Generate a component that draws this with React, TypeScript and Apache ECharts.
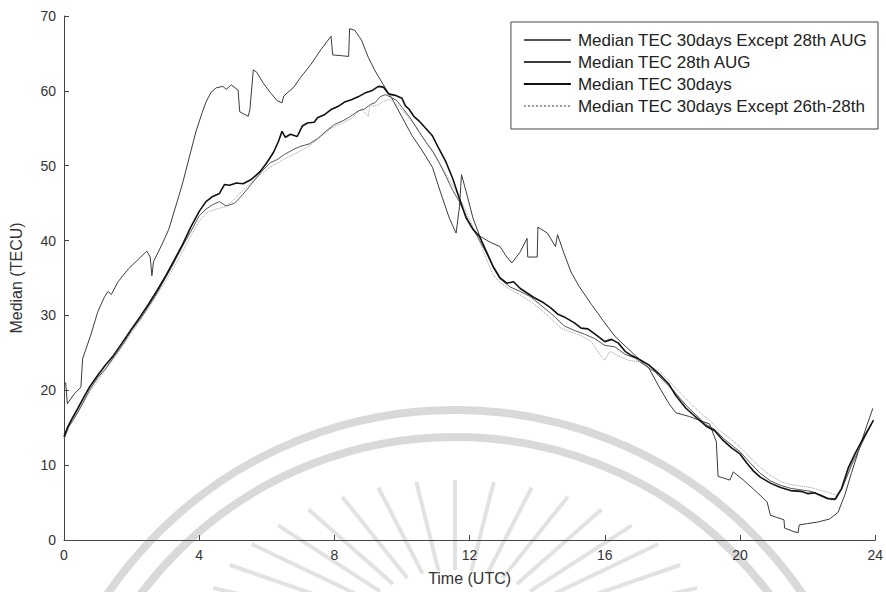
import React, { useEffect, useRef } from "react";
import * as echarts from "echarts";

const xTicks = [0, 4, 8, 12, 16, 20, 24];
const yTicks = [0, 10, 20, 30, 40, 50, 60, 70];

const seriesNames = [
  "Median TEC 30days Except 28th AUG",
  "Median TEC 28th AUG",
  "Median TEC 30days",
  "Median TEC 30days Except 26th-28th",
];

const aug28: number[][] = [
  [0, 20.8], [0.05, 21], [0.1, 18.2], [0.3, 19.5], [0.5, 20.4], [0.55, 24.2], [0.8, 27.5], [1.0, 30.5],
  [1.2, 32.5], [1.3, 33.2], [1.4, 32.8], [1.6, 34.5], [1.9, 36.2], [2.2, 37.5], [2.45, 38.6], [2.55, 37.8],
  [2.6, 35.3], [2.65, 37.2], [2.9, 39.5], [3.1, 41.5], [3.3, 44.5], [3.5, 47.5], [3.7, 51], [3.9, 54.5],
  [4.08, 57], [4.2, 58.5], [4.35, 59.8], [4.5, 60.4], [4.7, 60.6], [4.8, 60.2], [4.95, 60.8], [5.15, 60.1],
  [5.2, 57.2], [5.45, 56.6], [5.5, 57.5], [5.6, 62.8], [5.7, 62.5], [5.9, 61], [6.1, 59.8], [6.3, 58.7],
  [6.45, 58.4], [6.5, 59.3], [6.8, 60.5], [7.0, 61.8], [7.3, 63.5], [7.6, 65.5], [7.9, 67.3], [7.95, 64.8],
  [8.2, 64.7], [8.42, 64.6], [8.45, 68.3], [8.6, 68.1], [8.8, 66.8], [9.0, 64.5], [9.2, 62.7], [9.45, 60.8],
  [9.7, 59], [10.0, 56.5], [10.3, 54], [10.6, 52], [10.9, 49.8], [11.15, 46.3], [11.4, 43], [11.6, 41],
  [11.7, 44.5], [11.76, 48.8], [11.9, 46.5], [12.1, 43], [12.3, 40.6], [12.6, 39.8], [12.9, 39.2], [13.1, 37.8],
  [13.25, 37], [13.5, 38.5], [13.7, 40.3], [13.72, 37.8], [14.0, 37.8], [14.02, 41.8], [14.3, 41], [14.54, 39.2],
  [14.6, 40.8], [14.8, 38.2], [15.0, 35.8], [15.25, 33.8], [15.6, 31.5], [16.0, 29], [16.3, 27.2], [16.7, 25.5],
  [17.0, 24.2], [17.3, 23], [17.6, 20.5], [17.9, 18.2], [18.1, 17], [18.5, 16.5], [18.8, 16], [19.1, 15.5],
  [19.3, 13.1], [19.35, 8.5], [19.5, 8.3], [19.7, 8], [19.8, 9.1], [20.1, 8], [20.4, 6.8], [20.8, 5.1],
  [20.9, 3.3], [21.1, 3], [21.3, 2.7], [21.32, 1.6], [21.6, 1.1], [21.72, 1.0], [21.75, 2.0], [22.0, 2.2],
  [22.3, 2.4], [22.65, 2.8], [22.9, 3.7], [23.1, 6], [23.3, 9], [23.5, 11.8], [23.7, 14.6], [23.93, 17.6],
];

const days30: number[][] = [
  [0, 13.8], [0.1, 15], [0.25, 16.3], [0.4, 17.5], [0.6, 19.2], [0.75, 20.4], [1.0, 22], [1.2, 23.2],
  [1.44, 24.5], [1.7, 26.2], [2.0, 28.2], [2.25, 29.8], [2.5, 31.5], [2.75, 33.3], [3.0, 35.2], [3.25, 37.3],
  [3.5, 39.4], [3.75, 41.8], [4.0, 43.9], [4.2, 45.2], [4.4, 45.9], [4.6, 46.3], [4.75, 47.5], [4.9, 47.4],
  [5.1, 47.7], [5.3, 47.6], [5.55, 48.2], [5.8, 49.2], [6.0, 50.4], [6.2, 51.8], [6.35, 53.3], [6.45, 54.6],
  [6.55, 53.8], [6.7, 54.2], [6.9, 53.9], [7.05, 55.3], [7.2, 55.7], [7.4, 55.8], [7.5, 56.4], [7.7, 56.8],
  [7.9, 57.5], [8.1, 57.9], [8.3, 58.5], [8.5, 58.8], [8.7, 59.2], [8.9, 59.7], [9.1, 60], [9.3, 60.6],
  [9.45, 60.5], [9.6, 59.6], [9.8, 59.4], [10.0, 59], [10.1, 58], [10.2, 57.6], [10.35, 56.6], [10.5, 56],
  [10.7, 55], [10.9, 54], [11.1, 52.2], [11.3, 50.5], [11.5, 48.3], [11.7, 45.6], [11.9, 43], [12.1, 41.5],
  [12.3, 40.5], [12.5, 38.5], [12.7, 36.5], [12.9, 35], [13.1, 34.3], [13.3, 34.5], [13.5, 33.6], [13.7, 33],
  [13.9, 32.4], [14.15, 31.8], [14.4, 31], [14.6, 30.2], [14.8, 29.8], [15.1, 29], [15.3, 28.3], [15.5, 28.2],
  [15.8, 27.2], [16.0, 26.5], [16.2, 26.8], [16.4, 26.3], [16.6, 25.2], [16.8, 24.6], [17.0, 24.2], [17.3, 23.4],
  [17.6, 22.2], [17.9, 20.8], [18.1, 19.3], [18.4, 17.6], [18.7, 16.4], [19.0, 15.2], [19.25, 14.6], [19.5, 13.3],
  [19.75, 12.3], [20.0, 11.5], [20.2, 10.3], [20.4, 9.2], [20.6, 8.4], [20.9, 7.6], [21.2, 7.0], [21.5, 6.6],
  [21.8, 6.5], [22.0, 6.2], [22.2, 6.3], [22.4, 5.9], [22.6, 5.5], [22.8, 5.4], [23.0, 6.8], [23.2, 9.6],
  [23.4, 11.5], [23.6, 13.2], [23.8, 14.8], [23.95, 16.0],
];

const except28: number[][] = [
  [0, 13.5], [0.15, 15.2], [0.3, 16.2], [0.5, 17.8], [0.75, 20.0], [1.0, 21.7], [1.25, 23], [1.5, 24.6],
  [1.75, 26.2], [2.0, 28], [2.25, 29.5], [2.5, 31.2], [2.75, 33], [3.0, 35], [3.25, 37], [3.5, 39.2],
  [3.75, 41.2], [4.0, 43.3], [4.2, 44.2], [4.4, 44.8], [4.6, 45.2], [4.8, 44.6], [5.05, 45.0], [5.3, 46.2],
  [5.5, 47.3], [5.84, 49.2], [6.1, 50.4], [6.3, 50.8], [6.52, 51.5], [6.8, 52.2], [7.0, 52.6], [7.25, 52.9],
  [7.5, 53.6], [7.75, 54.6], [8.0, 55.5], [8.25, 56.0], [8.48, 56.6], [8.7, 57.3], [8.9, 57.6], [9.07, 58.2],
  [9.2, 58.4], [9.35, 59.2], [9.5, 59.5], [9.65, 59.2], [9.85, 58.7], [10.0, 57.8], [10.24, 56.4], [10.5, 54.6],
  [10.7, 53.2], [10.9, 52.0], [11.1, 50.4], [11.3, 48.6], [11.5, 46.7], [11.7, 45.2], [11.9, 43.2], [12.1, 41.6],
  [12.3, 40.0], [12.5, 38.3], [12.7, 36.4], [12.9, 34.9], [13.2, 33.8], [13.5, 33.2], [13.8, 32.5], [14.1, 31.4],
  [14.4, 30.3], [14.8, 28.6], [15.1, 28.0], [15.4, 27.5], [15.7, 26.9], [16.0, 26.0], [16.3, 25.8], [16.6, 24.8],
  [16.9, 24.3], [17.2, 23.3], [17.5, 22.4], [17.8, 21.0], [18.1, 19.6], [18.4, 18.0], [18.7, 16.7], [19.0, 15.4],
  [19.25, 14.8], [19.5, 13.6], [19.8, 12.5], [20.0, 11.8], [20.3, 10.3], [20.6, 8.9], [20.9, 7.9], [21.2, 7.3],
  [21.5, 6.9], [21.8, 6.7], [22.1, 6.5], [22.4, 6.0], [22.6, 5.6], [22.85, 5.5], [23.05, 7.2], [23.3, 10.0],
  [23.5, 11.9], [23.7, 13.8], [23.9, 15.6],
];

const except2628: number[][] = [
  [0, 14.2], [0.2, 15.6], [0.4, 17.0], [0.6, 18.5], [0.8, 20.1], [1.0, 21.3], [1.3, 23.2], [1.6, 25.0],
  [1.9, 27.0], [2.2, 29.0], [2.5, 31.0], [2.8, 33.1], [3.1, 35.3], [3.4, 37.6], [3.7, 40.2], [4.0, 42.6],
  [4.25, 43.8], [4.5, 44.2], [4.75, 44.5], [5.0, 45.3], [5.25, 46.5], [5.5, 47.6], [5.8, 48.8], [6.1, 49.8],
  [6.4, 50.6], [6.7, 51.3], [7.0, 52.0], [7.3, 52.8], [7.6, 53.9], [7.9, 55.0], [8.2, 55.6], [8.5, 56.3],
  [8.8, 57.6], [9.0, 56.6], [9.05, 58.0], [9.25, 58.0], [9.45, 58.6], [9.65, 58.9], [9.85, 58.2], [10.05, 57.2],
  [10.3, 55.8], [10.55, 54.2], [10.8, 52.5], [11.0, 51.2], [11.3, 48.9], [11.5, 47.4], [11.7, 45.8], [11.9, 43.8],
  [12.1, 41.8], [12.3, 39.8], [12.5, 37.5], [12.7, 35.4], [12.9, 34.4], [13.2, 33.5], [13.5, 32.7], [13.8, 31.9],
  [14.1, 30.8], [14.4, 29.6], [14.7, 28.3], [15.0, 27.8], [15.3, 27.3], [15.6, 26.5], [15.85, 24.8], [16.0, 24.0],
  [16.15, 25.2], [16.4, 24.6], [16.7, 24.0], [17.0, 23.8], [17.3, 23.2], [17.6, 22.6], [17.9, 21.3], [18.2, 19.8],
  [18.5, 18.4], [18.8, 17.1], [19.1, 16.0], [19.4, 14.6], [19.7, 13.6], [20.0, 12.4], [20.3, 11.0], [20.6, 9.7],
  [20.9, 8.6], [21.2, 7.8], [21.5, 7.4], [21.8, 7.2], [22.1, 7.0], [22.4, 6.6], [22.65, 6.3], [22.85, 6.0],
  [23.05, 7.4], [23.3, 10.2], [23.5, 12.0], [23.7, 13.9], [23.9, 15.4],
];

const FONT = "'Liberation Sans', Arial, sans-serif";

function watermark(): any[] {
  const els: any[] = [];
  els.push({
    type: "arc", z: -10, silent: true,
    shape: { cx: 455, cy: 830, r: 420, startAngle: Math.PI, endAngle: 2 * Math.PI, clockwise: true },
    style: { stroke: "#d9d9d9", lineWidth: 8, fill: "none" },
  });
  els.push({
    type: "arc", z: -10, silent: true,
    shape: { cx: 455, cy: 830, r: 393, startAngle: Math.PI, endAngle: 2 * Math.PI, clockwise: true },
    style: { stroke: "#d9d9d9", lineWidth: 8, fill: "none" },
  });
  const cx = 455, cy = 650;
  for (let i = 0; i <= 20; i++) {
    const a = Math.PI + (Math.PI * (i + 0.5)) / 21;
    const c = Math.cos(a), s = Math.sin(a);
    els.push({
      type: "line", z: -10, silent: true,
      shape: { x1: cx + c * 110, y1: cy + s * 80, x2: cx + c * 260, y2: cy + s * 170 },
      style: { stroke: "#e2e2e2", lineWidth: 4 },
    });
  }
  return els;
}

export default function App() {
  const ref = useRef<HTMLDivElement>(null);
  useEffect(() => {
    if (!ref.current) return;
    const chart = echarts.init(ref.current, undefined, { renderer: "svg" });
    const common = { type: "line", symbol: "none", showSymbol: false, smooth: false };
    chart.setOption({
      animation: false,
      backgroundColor: "#ffffff",
      graphic: watermark(),
      grid: { left: 61, right: 7, top: 16, bottom: 52, containLabel: false },
      legend: {
        orient: "vertical",
        right: 8,
        top: 22,
        padding: [9, 10, 14, 12],
        itemGap: 4,
        itemWidth: 47,
        itemHeight: 14,
        borderColor: "#444",
        borderWidth: 1,
        borderRadius: 0,
        backgroundColor: "#ffffff",
        itemStyle: { opacity: 0 },
        textStyle: { fontFamily: FONT, fontSize: 17, color: "#222", lineHeight: 18, padding: [0, 0, 0, 2] },
        data: seriesNames,
      },
      xAxis: {
        type: "value",
        min: 0,
        max: 24,
        interval: 4,
        name: "Time (UTC)",
        nameLocation: "middle",
        nameGap: 30,
        nameTextStyle: { fontFamily: FONT, fontSize: 16, color: "#333" },
        axisLine: { show: true, lineStyle: { color: "#444", width: 1 } },
        axisTick: { show: true, inside: true, length: 5, lineStyle: { color: "#444" } },
        axisLabel: {
          fontFamily: FONT, fontSize: 14, color: "#333", margin: 8,
          formatter: (v: number) => (xTicks.includes(v) ? String(v) : ""),
        },
        splitLine: { show: false },
      },
      yAxis: {
        type: "value",
        min: 0,
        max: 70,
        interval: 10,
        name: "Median (TECU)",
        nameLocation: "middle",
        nameGap: 40,
        nameTextStyle: { fontFamily: FONT, fontSize: 16, color: "#333" },
        axisLine: { show: true, lineStyle: { color: "#444", width: 1 } },
        axisTick: { show: true, inside: true, length: 5, lineStyle: { color: "#444" } },
        axisLabel: {
          fontFamily: FONT, fontSize: 14, color: "#333", margin: 8,
          formatter: (v: number) => (yTicks.includes(v) ? String(v) : ""),
        },
        splitLine: { show: false },
      },
      series: [
        { ...common, name: seriesNames[0], data: except28, z: 3, lineStyle: { color: "#555", width: 1 }, itemStyle: { color: "#555" } },
        { ...common, name: seriesNames[1], data: aug28, z: 2, lineStyle: { color: "#3c3c3c", width: 1 }, itemStyle: { color: "#3c3c3c" } },
        { ...common, name: seriesNames[2], data: days30, z: 4, lineStyle: { color: "#111", width: 1.6 }, itemStyle: { color: "#111" } },
        { ...common, name: seriesNames[3], data: except2628, z: 2, lineStyle: { color: "#9a9a9a", width: 1, type: "dotted" }, itemStyle: { color: "#9a9a9a" } },
      ],
    });
    return () => chart.dispose();
  }, []);
  return <div ref={ref} style={{ width: 886, height: 592, position: "absolute", left: 0, top: 0 }} />;
}
